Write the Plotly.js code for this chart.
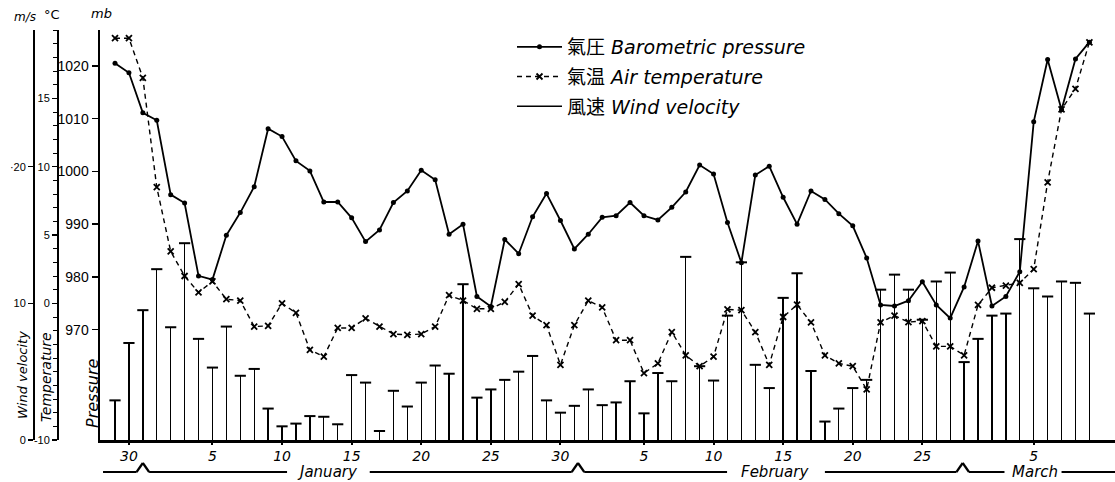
<!DOCTYPE html>
<html><head><meta charset="utf-8">
<script src="https://cdn.plot.ly/plotly-3.0.1.min.js"></script>
<style>html,body{margin:0;padding:0;background:#fff}#chart{width:1115px;height:482px}</style>
</head><body><div id="chart"></div>
<script>
// ---- data (one value per day, 29 Dec .. 9 Mar) ----
const startYear = 1946, startMonth = 11, startDay = 29; // 29 December
const nDays = 71;
const pressure = [1020.5,1018.7,1011.1,1009.7,995.6,994.0,980.2,979.5,987.9,992.2,
  997.1,1008.1,1006.6,1002.0,1000.1,994.2,994.2,991.2,986.7,988.9,
  994.1,996.3,1000.2,998.4,988.1,990.0,976.3,974.4,987.1,984.4,
  991.4,995.8,990.7,985.3,988.1,991.3,991.6,994.1,991.6,990.8,
  993.2,996.1,1001.2,999.5,990.3,982.7,999.3,1001.0,995.1,990.0,
  996.3,994.7,992.0,989.7,983.6,974.7,974.5,975.5,979.1,974.7,
  972.2,978.1,986.8,974.5,976.3,981.0,1009.4,1021.2,1011.7,1021.3,1024.5];
const temperature = [19.4,19.4,16.5,8.5,3.8,2.0,0.8,1.6,0.3,0.2,
  -1.7,-1.65,0.0,-0.7,-3.4,-3.9,-1.8,-1.8,-1.1,-1.7,
  -2.25,-2.3,-2.25,-1.7,0.6,0.2,-0.4,-0.4,0.1,1.4,
  -0.9,-1.6,-4.5,-1.6,0.2,-0.3,-2.7,-2.7,-5.1,-4.4,
  -2.1,-3.8,-4.6,-3.9,-0.45,-0.5,-2.1,-4.5,-1.0,-0.1,
  -1.4,-3.8,-4.4,-4.6,-6.3,-1.4,-0.9,-1.37,-1.3,-3.15,
  -3.15,-3.8,-0.12,1.14,1.3,1.5,2.5,8.85,14.2,15.7,19.1];
const wind = [2.9,7.1,9.5,12.5,8.25,14.4,7.4,5.3,8.3,4.7,
  5.2,2.3,1.0,1.2,1.75,1.7,1.15,4.75,4.2,0.66,
  3.6,2.45,4.2,5.45,4.85,11.4,3.1,3.7,4.4,5.0,
  6.15,2.9,2.0,2.5,3.7,2.55,2.75,4.3,1.95,4.9,
  4.3,13.4,5.4,4.35,9.1,13.0,5.5,3.8,10.4,12.2,
  5.05,1.35,2.3,3.8,4.4,11.0,12.1,11.0,8.8,11.6,
  12.25,5.7,7.4,9.1,9.25,14.7,11.1,10.5,11.6,11.5,9.25];
const dayTickDates = ['1946-12-30','1947-01-05','1947-01-10','1947-01-15','1947-01-20','1947-01-25','1947-01-30',
  '1947-02-05','1947-02-10','1947-02-15','1947-02-20','1947-02-25','1947-03-05'];
const dayTickLabels = ['30','5','10','15','20','25','30','5','10','15','20','25','5'];
const monthNames = ['January','February','March'];
const mbTicks = [970,980,990,1000,1010,1020];
const cTickVals = [-10,0,5,10,15];
const cTickText = ['-10','0','5','10','15'];
const msTickVals = [0,10,20];
const msTickText = ['0','10','·20'];
const legendNames = ['氣圧 <i>Barometric pressure</i>','氣温 <i>Air temperature</i>','風速 <i>Wind velocity</i>'];

// ---- helpers ----
const DAY = 86400000;
const t0 = Date.UTC(startYear, startMonth, startDay);
function iso(ms){ return new Date(ms).toISOString().slice(0,19).replace('T',' '); }
function dayAt(d){ return iso(t0 + d*DAY); }
const dates = Array.from({length:nDays}, (_, i) => dayAt(i));

const W = 1115, PT = 30, PB = 440, PH = PB - PT;
const py = p => (PB - p) / PH; // pixel-y -> paper
const px = p => p / W;

const FONT = '"DejaVu Sans", "Noto Sans CJK JP", sans-serif';
const NARROW = '"Liberation Sans Narrow", "Liberation Sans", sans-serif';

const traces = [
  {type:'bar', x:dates, y:wind, yaxis:'y3', width:0.095*DAY, marker:{color:'#000', line:{width:0}},
   showlegend:false, hoverinfo:'skip'},
  {type:'scatter', mode:'markers', x:dates, y:wind, yaxis:'y3', showlegend:false,
   marker:{symbol:'line-ew', size:8, line:{width:2, color:'#000'}, color:'#000'}},
  {type:'scatter', mode:'lines+markers', x:dates, y:temperature, yaxis:'y2', name:legendNames[1], legendrank:2,
   legendgroup:'t', line:{color:'#000', width:1.4, dash:'5px,4px'},
   marker:{symbol:'x-thin', size:6, line:{width:1.8, color:'#000'}, color:'#000'}},
  {type:'scatter', mode:'lines+markers', x:dates, y:pressure, yaxis:'y', name:legendNames[0], legendrank:1,
   legendgroup:'p', line:{color:'#000', width:1.8}, marker:{symbol:'circle', size:5, color:'#000'}},
  {type:'scatter', mode:'lines', x:[null], y:[null], yaxis:'y3', name:legendNames[2], legendrank:3,
   legendgroup:'w', line:{color:'#000', width:1.6}}
];

// month bracket under the axis
const segs = [[-0.86,12.36],[18.3,43.97],[51.0,63.9],[68.0,71.84]];
const peaks = [2, 33.26, 60.9];
const hw = 0.45, yb = py(472), yp = py(463);
const shapes = [];
function ln(a, ya, b, yb2){ shapes.push({type:'line', xref:'x', yref:'paper', x0:dayAt(a), x1:dayAt(b), y0:ya, y1:yb2, line:{color:'#000', width:2.2}}); }
segs.forEach(([a,b]) => {
  let cur = a;
  peaks.filter(p => p > a && p < b).forEach(p => {
    ln(cur, yb, p-hw, yb); ln(p-hw, yb, p, yp); ln(p, yp, p+hw, yb); cur = p+hw;
  });
  ln(cur, yb, b, yb);
});

const monthPos = [15.3, 47.4, 66.1];
const annotations = monthNames.map((m, i) => ({xref:'x', yref:'paper', x:dayAt(monthPos[i]), y:py(472),
  xanchor:'center', yanchor:'middle',
  text:'<i>'+m+'</i>', showarrow:false, font:{family:FONT, size:15, color:'#000'}}));
function ann(text, x, y, size, angle){
  annotations.push({xref:'paper', yref:'paper', x:px(x), y:py(y), xanchor:'center', yanchor:'middle',
    text:text, showarrow:false, textangle:angle||0, font:{family:FONT, size:size, color:'#000'}});
}
ann('<i>Wind velocity</i>', 22, 375, 13, -90);
ann('<i>Temperature</i>', 46, 377, 14, -90);
ann('<i>Pressure</i>', 92, 394, 16, -90);
ann('<i>m/s</i>', 25, 17, 12);
ann('°C', 52, 15, 13);
ann('<i>mb</i>', 101, 14, 13);

const axBase = {showgrid:false, zeroline:false, showline:true, linecolor:'#000', ticks:'outside', tickcolor:'#000'};
const layout = {
  width:1115, height:482, margin:{l:0, r:0, t:PT, b:482-PB, pad:0},
  paper_bgcolor:'#fff', plot_bgcolor:'rgba(0,0,0,0)', bargap:0,
  showlegend:true,
  legend:{x:px(512), y:1.005, xanchor:'left', yanchor:'top', bgcolor:'rgba(0,0,0,0)', borderwidth:0,
    font:{family:FONT, size:19, color:'#000'}, traceorder:'grouped', tracegroupgap:2, itemwidth:45},
  xaxis:Object.assign({}, axBase, {type:'date', domain:[px(100), 1], anchor:'y',
    range:[dayAt(-1.078), dayAt(71.84)], linewidth:2.5, ticklen:2, tickwidth:2,
    tickmode:'array', tickvals:dayTickDates, ticktext:dayTickLabels.map(s => '<i>'+s+'</i>'),
    tickfont:{family:FONT, size:14, color:'#000'}}),
  yaxis:Object.assign({}, axBase, {range:[949.1, 1026.8], anchor:'x', side:'left', linewidth:2.5,
    ticklen:6, tickwidth:1.5, tickmode:'array', tickvals:mbTicks,
    tickfont:{family:NARROW, size:14, color:'#000'}}),
  yaxis2:Object.assign({}, axBase, {range:[-10, 20], overlaying:'y', anchor:'free', position:px(58), side:'left',
    linewidth:2, ticklen:5, tickwidth:1.5, tickmode:'array', tickvals:cTickVals, ticktext:cTickText,
    tickfont:{family:NARROW, size:11, color:'#000'},
    minor:{tickmode:'linear', tick0:0, dtick:1, ticks:'outside', ticklen:4, tickwidth:1, tickcolor:'#000', showgrid:false}}),
  yaxis3:Object.assign({}, axBase, {range:[0, 30], overlaying:'y', anchor:'free', position:px(34), side:'left',
    linewidth:2, ticklen:5, tickwidth:1.5, tickmode:'array', tickvals:msTickVals, ticktext:msTickText,
    tickfont:{family:NARROW, size:11, color:'#000'}}),
  shapes:shapes, annotations:annotations
};
Plotly.newPlot('chart', traces, layout, {staticPlot:true, displayModeBar:false});
</script></body></html>
